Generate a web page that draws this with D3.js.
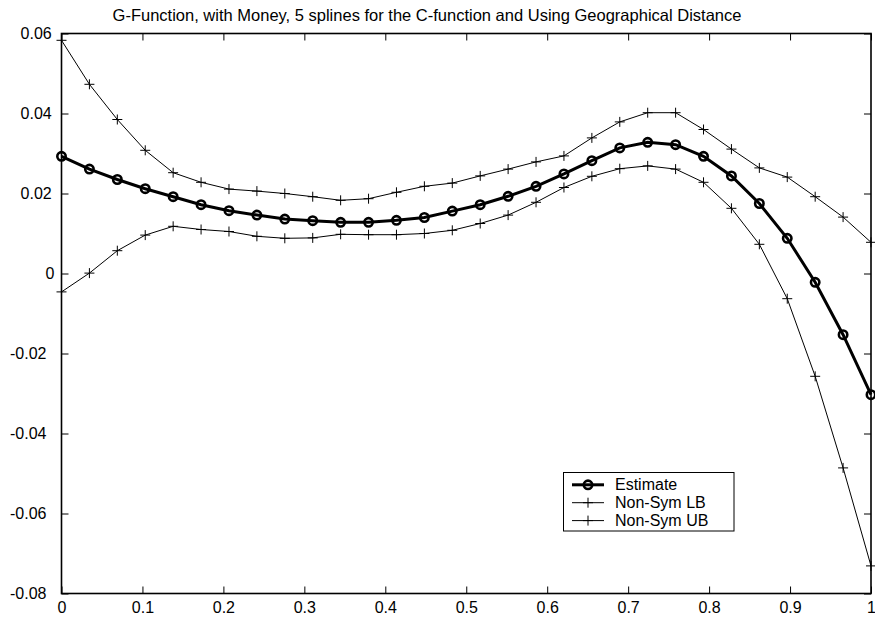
<!DOCTYPE html>
<html><head><meta charset="utf-8">
<script src="https://cdn.jsdelivr.net/npm/d3@7"></script>
<style>body{margin:0;background:#fff}svg{display:block}text{font-family:"Liberation Sans",Arial,sans-serif}</style>
</head><body><svg id="c" width="875" height="624"></svg>
<script>
const title = "G-Function, with Money, 5 splines for the C-function and Using Geographical Distance";
const xs = d3.range(30).map(i => i / 29);
const estimate = [0.0293,0.0261,0.0235,0.0212,0.0192,0.0172,0.0157,0.0146,0.0136,0.0132,0.0128,0.0128,0.0133,0.0140,0.0156,0.0172,0.0193,0.0218,0.0249,0.0282,0.0314,0.0328,0.0322,0.0293,0.0244,0.0175,0.0088,-0.0022,-0.0153,-0.0303];
const lowerB = [-0.0046,0.0001,0.0057,0.0096,0.0118,0.0110,0.0105,0.0093,0.0088,0.0089,0.0098,0.0097,0.0097,0.0100,0.0108,0.0125,0.0146,0.0178,0.0215,0.0243,0.0262,0.0269,0.0261,0.0228,0.0163,0.0073,-0.0063,-0.0257,-0.0486,-0.0731];
const upperB = [0.0583,0.0473,0.0385,0.0308,0.0252,0.0228,0.0211,0.0206,0.0200,0.0192,0.0183,0.0187,0.0203,0.0218,0.0226,0.0244,0.0261,0.0279,0.0294,0.0339,0.0379,0.0402,0.0402,0.0360,0.0311,0.0264,0.0241,0.0192,0.0141,0.0078];
const xTicks = [0,0.1,0.2,0.3,0.4,0.5,0.6,0.7,0.8,0.9,1];
const yTicks = [-0.08,-0.06,-0.04,-0.02,0,0.02,0.04,0.06];
const legendLabels = ["Estimate","Non-Sym LB","Non-Sym UB"];

const W = 875, H = 624;
const m = {l:61.5, r:4, t:33.5, b:30.5};
const FS = 16;
const svg = d3.select("#c");
const x = d3.scaleLinear().domain([0,1]).range([m.l, W - m.r]);
const y = d3.scaleLinear().domain([-0.08,0.06]).range([H - m.b, m.t]);
const fmt = v => v === 0 ? "0" : String(+v.toFixed(2));
const TL = 7;

svg.append("text").attr("x", 427).attr("y", 20.7).attr("text-anchor","middle")
  .attr("font-size", 16.5).text(title);

// axes with inward ticks
const gB = svg.append("g").attr("transform",`translate(0,${H-m.b})`)
  .call(d3.axisBottom(x).tickValues(xTicks).tickSize(-TL).tickPadding(8.5).tickFormat(d=>String(d)));
const gT = svg.append("g").attr("transform",`translate(0,${m.t})`)
  .call(d3.axisTop(x).tickValues(xTicks).tickSize(-TL).tickFormat(""));
const gL = svg.append("g").attr("transform",`translate(${m.l},0)`)
  .call(d3.axisLeft(y).tickValues(yTicks).tickSize(-TL).tickPadding(9.8).tickFormat(fmt));
const gR = svg.append("g").attr("transform",`translate(${W-m.r},0)`)
  .call(d3.axisRight(y).tickValues(yTicks).tickSize(-TL).tickFormat(""));
[gB,gT,gL,gR].forEach(g=>{
  g.select(".domain").remove();
  g.selectAll(".tick line").attr("stroke","#000").attr("stroke-width",1);
  g.selectAll("text").attr("font-size",FS).attr("fill","#000").attr("font-family","Liberation Sans, Arial, sans-serif");
});
gL.selectAll(".tick text").attr("x", d => d === 0 ? -7.2 : (d < 0 ? -15 : -9.8));
svg.append("rect").attr("x",m.l).attr("y",m.t).attr("width",W-m.r-m.l).attr("height",H-m.b-m.t)
  .attr("fill","none").attr("stroke","#000").attr("stroke-width",1.6);

const line = d3.line().x(d=>x(d[0])).y(d=>y(d[1]));
const plus = (g, px, py) => {
  g.append("path").attr("d",`M${px-5},${py}H${px+5}M${px},${py-5}V${py+5}`).attr("stroke","#000").attr("stroke-width",1);
};
const series = [lowerB, upperB];
series.forEach(s=>{
  const pts = xs.map((v,i)=>[v,s[i]]);
  svg.append("path").attr("d",line(pts)).attr("fill","none").attr("stroke","#000").attr("stroke-width",1);
  const g = svg.append("g");
  pts.forEach(p=>plus(g, x(p[0]), y(p[1])));
});
const ePts = xs.map((v,i)=>[v,estimate[i]]);
svg.append("path").attr("d",line(ePts)).attr("fill","none").attr("stroke","#000").attr("stroke-width",3);
svg.append("g").selectAll("circle").data(ePts).join("circle")
  .attr("cx",d=>x(d[0])).attr("cy",d=>y(d[1])).attr("r",4.2)
  .attr("fill","none").attr("stroke","#000").attr("stroke-width",2.6);

// legend
const lg = svg.append("g");
lg.append("rect").attr("x",563.5).attr("y",472.5).attr("width",170.5).attr("height",58.5)
  .attr("fill","#fff").attr("stroke","#000").attr("stroke-width",1);
legendLabels.forEach((lab,i)=>{
  const cy = 484.8 + i*17.9;
  const x1 = 572, x2 = 604, xm = (x1+x2)/2;
  if(i===0){
    lg.append("line").attr("x1",x1).attr("x2",x2).attr("y1",cy).attr("y2",cy).attr("stroke","#000").attr("stroke-width",3);
    lg.append("circle").attr("cx",xm).attr("cy",cy).attr("r",4.2).attr("fill","none").attr("stroke","#000").attr("stroke-width",2.6);
  } else {
    lg.append("line").attr("x1",x1).attr("x2",x2).attr("y1",cy).attr("y2",cy).attr("stroke","#000").attr("stroke-width",1);
    plus(lg, xm, cy);
  }
  lg.append("text").attr("x",615).attr("y",cy).attr("dy","0.35em").attr("font-size",FS).text(lab);
});
</script></body></html>
